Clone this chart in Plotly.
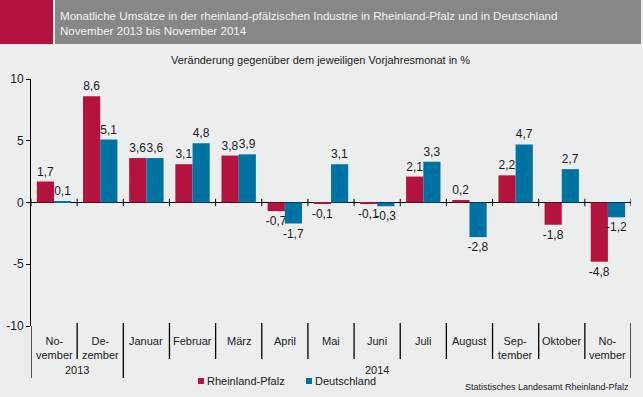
import plotly.graph_objects as go

# ---- data ----
months = ["No-<br>vember", "De-<br>zember", "Januar", "Februar", "März", "April", "Mai",
          "Juni", "Juli", "August", "Sep-<br>tember", "Oktober", "No-<br>vember"]
years = ["2013", "2014"]
year_counts = [2, 11]
rheinland_pfalz = [1.7, 8.6, 3.6, 3.1, 3.8, -0.7, -0.1, -0.1, 2.1, 0.2, 2.2, -1.8, -4.8]
deutschland = [0.1, 5.1, 3.6, 4.8, 3.9, -1.7, 3.1, -0.3, 3.3, -2.8, 4.7, 2.7, -1.2]
y_ticks = [-10, -5, 0, 5, 10]

title1 = "Monatliche Umsätze in der rheinland-pfälzischen Industrie in Rheinland-Pfalz und in Deutschland"
title2 = "November 2013 bis November 2014"
subtitle = "Veränderung gegenüber dem jeweiligen Vorjahresmonat in %"
source = "Statistisches Landesamt Rheinland-Pfalz"

# ---- layout constants ----
W, H = 643, 397
L, R, T, B = 31, 12, 79, 71
PW, PH = W - L - R, H - T - B
FONT = "Liberation Sans, Arial, sans-serif"
RED = "#B5133F"
BLUE = "#0073A3"
BG = "#ECEDED"
TXT = "#1A1A1A"


def fx(px):
    return (px - L) / PW


def fy(py):
    return (H - B - py) / PH


def fmt(v):
    return f"{v:.1f}".replace(".", ",").replace("\u2212", "-")


xs = list(range(len(months)))

fig = go.Figure()
fig.add_trace(go.Bar(x=xs, y=rheinland_pfalz, name="Rheinland-Pfalz", marker_color=RED,
                     text=[fmt(v) for v in rheinland_pfalz], textposition="outside",
                     textfont=dict(size=12, color=TXT, family=FONT), cliponaxis=False,
                     constraintext="none", marker_line_width=0))
fig.add_trace(go.Bar(x=xs, y=deutschland, name="Deutschland", marker_color=BLUE,
                     text=[fmt(v) for v in deutschland], textposition="outside",
                     textfont=dict(size=12, color=TXT, family=FONT), cliponaxis=False,
                     constraintext="none", marker_line_width=0))

shapes = []
annotations = []

# boundaries between categories
bounds = [i - 0.5 for i in range(len(months) + 1)]
year_bounds = [-0.5]
for c in year_counts:
    year_bounds.append(year_bounds[-1] + c)

for b in bounds:
    # small tick marks on zero line
    shapes.append(dict(type="line", xref="x", yref="y", x0=b, x1=b, y0=-0.3, y1=0.3,
                       line=dict(color="black", width=1)))
    long = b in year_bounds
    shapes.append(dict(type="line", xref="x", yref="paper", x0=b, x1=b,
                       y0=fy(326 if b == -0.5 else 323), y1=fy(378 if long else 359),
                       line=dict(color="black", width=1.3)))

# category labels
for i, m in enumerate(months):
    annotations.append(dict(x=i, y=fy(333), xref="x", yref="paper", text=m, showarrow=False,
                            xanchor="center", yanchor="top", align="center",
                            font=dict(size=11, color=TXT, family=FONT)))
# year labels
for k, yname in enumerate(years):
    center = (year_bounds[k] + year_bounds[k + 1]) / 2
    annotations.append(dict(x=center, y=fy(370), xref="x", yref="paper", text=yname,
                            showarrow=False, xanchor="center", yanchor="middle",
                            font=dict(size=11, color=TXT, family=FONT)))

# header
shapes.append(dict(type="rect", xref="paper", yref="paper", x0=fx(0), x1=fx(53), y0=fy(44), y1=fy(0),
                   fillcolor=RED, line=dict(width=0), layer="below"))
shapes.append(dict(type="rect", xref="paper", yref="paper", x0=fx(55), x1=fx(641), y0=fy(44), y1=fy(0),
                   fillcolor="#878787", line=dict(width=0), layer="below"))
annotations.append(dict(x=fx(58), y=fy(15), xref="paper", yref="paper", text=title1, showarrow=False,
                        xanchor="left", yanchor="middle", font=dict(size=11.6, color="#F4F4F4", family=FONT)))
annotations.append(dict(x=fx(58), y=fy(30), xref="paper", yref="paper", text=title2, showarrow=False,
                        xanchor="left", yanchor="middle", font=dict(size=11.6, color="#F4F4F4", family=FONT)))
annotations.append(dict(x=fx(320), y=fy(60), xref="paper", yref="paper", text=subtitle, showarrow=False,
                        xanchor="center", yanchor="middle", font=dict(size=11, color=TXT, family=FONT)))

# legend (manual)
for (sx, tx, name, col) in [(198, 205, "Rheinland-Pfalz", RED), (306, 313, "Deutschland", BLUE)]:
    shapes.append(dict(type="rect", xref="paper", yref="paper", x0=fx(sx), x1=fx(sx + 6),
                       y0=fy(384), y1=fy(378), fillcolor=col, line=dict(width=0)))
    annotations.append(dict(x=fx(tx), y=fy(381), xref="paper", yref="paper", text=name,
                            showarrow=False, xanchor="left", yanchor="middle",
                            font=dict(size=11, color=TXT, family=FONT)))

annotations.append(dict(x=fx(631), y=fy(387), xref="paper", yref="paper", text=source, showarrow=False,
                        xanchor="right", yanchor="middle", font=dict(size=9, color=TXT, family=FONT)))

fig.update_layout(
    width=W, height=H,
    margin=dict(l=L, r=R, t=T, b=B, pad=0),
    paper_bgcolor=BG, plot_bgcolor=BG,
    barmode="group", bargap=0.255, bargroupgap=0,
    showlegend=False,
    font=dict(family=FONT, color=TXT, size=12),
    shapes=shapes, annotations=annotations,
    xaxis=dict(range=[-0.5, len(months) - 0.5], showticklabels=False, showgrid=False,
               zeroline=False, showline=False, ticks="", fixedrange=True, automargin=False),
    yaxis=dict(range=[-10, 10], tickvals=y_ticks, ticktext=[str(v) for v in y_ticks],
               showgrid=False, zeroline=True, zerolinecolor="black", zerolinewidth=1,
               showline=True, linecolor="black", linewidth=1, ticks="outside", ticklen=4,
               tickcolor="black", tickfont=dict(size=12, color=TXT, family=FONT), fixedrange=True,
               automargin=False),
)

fig.write_html("out.html", config={"displayModeBar": False},
               post_script="document.body.style.margin='0';document.body.style.overflow='hidden';")
